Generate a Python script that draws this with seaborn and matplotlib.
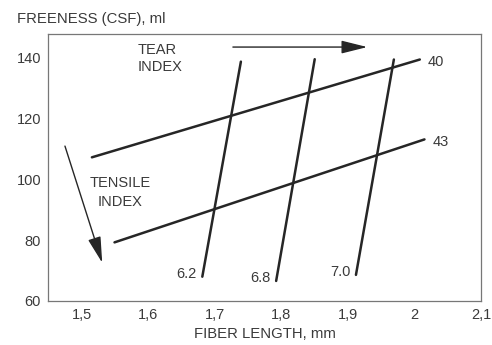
import numpy as np
import pandas as pd
import matplotlib
matplotlib.use("Agg")
import matplotlib.pyplot as plt
import seaborn as sns

# --- data ---
tear_labels = ["6.2", "6.8", "7.0"]
tear_x0 = [1.681, 1.792, 1.912]
tear_y0 = [68.0, 66.6, 68.6]
tear_x1 = [1.739, 1.850, 1.969]
tear_y1 = [138.8, 139.6, 139.5]

tensile_labels = ["40", "43"]
tensile_x0 = [1.515, 1.549]
tensile_y0 = [107.3, 79.3]
tensile_x1 = [2.008, 2.015]
tensile_y1 = [139.5, 113.2]

xticks = [1.5, 1.6, 1.7, 1.8, 1.9, 2.0, 2.1]
xtick_labels = ["1,5", "1,6", "1,7", "1,8", "1,9", "2", "2,1"]
yticks = [60, 80, 100, 120, 140]

sns.set_style("white")
plt.rcParams["font.family"] = ["Liberation Sans", "DejaVu Sans"]

rows = []
for i, lab in enumerate(tear_labels):
    rows.append(dict(x=tear_x0[i], y=tear_y0[i], line="tear " + lab))
    rows.append(dict(x=tear_x1[i], y=tear_y1[i], line="tear " + lab))
for i, lab in enumerate(tensile_labels):
    rows.append(dict(x=tensile_x0[i], y=tensile_y0[i], line="tensile " + lab))
    rows.append(dict(x=tensile_x1[i], y=tensile_y1[i], line="tensile " + lab))
df = pd.DataFrame(rows)

fig = plt.figure(figsize=(4.92, 3.45), dpi=100)
ax = fig.add_axes([48 / 492, 1 - 301 / 345, (481 - 48) / 492, (301 - 34) / 345])

line_col = "#262626"
text_col = "#3a3a3a"
fs = 10.5
sns.lineplot(data=df, x="x", y="y", units="line", estimator=None, sort=False,
             color=line_col, linewidth=1.8, ax=ax, legend=False)

ax.set_xlim(1.449, 2.1)
ax.set_ylim(60, 147.9)
ax.set_xticks(xticks)
ax.set_xticklabels(xtick_labels)
ax.set_yticks(yticks)
ax.set_xticks(np.arange(1.45, 2.1, 0.1), minor=True)
ax.set_yticks([70, 90, 110, 130], minor=True)
ax.tick_params(axis="both", which="major", direction="in", length=5, width=0.8,
               color="#777777", labelsize=fs, labelcolor=text_col, pad=5)
ax.tick_params(axis="both", which="minor", direction="in", length=3, width=0.6,
               color="#999999")
for s in ax.spines.values():
    s.set_color("#777777")
    s.set_linewidth(0.9)
ax.set_xlabel("")
ax.set_ylabel("")

# line labels
for i, lab in enumerate(tear_labels):
    ax.text(tear_x0[i] - 0.008, tear_y0[i] + 1.0, lab, ha="right", va="center",
            fontsize=fs, color=text_col)
for i, lab in enumerate(tensile_labels):
    ax.text(tensile_x1[i] + 0.012, tensile_y1[i] - 0.8, lab, ha="left", va="center",
            fontsize=fs, color=text_col)

# annotations
ax.text(1.584, 139.8, "TEAR\nINDEX", ha="left", va="center", fontsize=fs,
        color=text_col, linespacing=1.25)
ax.text(1.558, 95.6, "TENSILE\nINDEX", ha="center", va="center", fontsize=fs,
        color=text_col, linespacing=1.45)
arrow_kw = dict(arrowstyle="-|>,head_length=1.6,head_width=0.4", color=line_col,
                lw=1.0, shrinkA=0, shrinkB=0)
ax.annotate("", xy=(1.929, 143.6), xytext=(1.727, 143.6), arrowprops=arrow_kw)
ax.annotate("", xy=(1.5305, 72.6), xytext=(1.4745, 111.0), arrowprops=arrow_kw)

fig.text(17 / 492, 1 - 19 / 345, "FREENESS (CSF), ml", ha="left", va="center",
         fontsize=10.7, color=text_col)
fig.text(265 / 492, 1 - 334 / 345, "FIBER LENGTH, mm", ha="center", va="center",
         fontsize=10.7, color=text_col)

fig.savefig("out.png", dpi=100)
